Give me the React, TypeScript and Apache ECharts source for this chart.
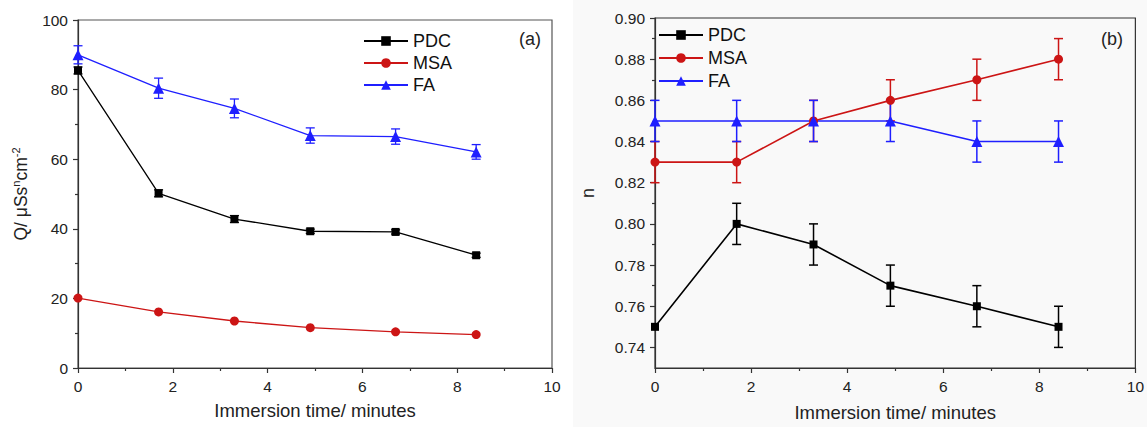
import React, { useEffect, useRef } from "react";
import * as echarts from "echarts";

const times = [0, 1.7, 3.3, 4.9, 6.7, 8.4];

// Panel (a): Q values
const qPDC = [85.5, 50.2, 42.8, 39.3, 39.1, 32.4];
const qPDCErr = [1.0, 1.0, 1.0, 0.6, 0.6, 0.6];
const qMSA = [20.1, 16.1, 13.5, 11.6, 10.4, 9.6];
const qMSAErr = [0, 0, 0, 0, 0, 0];
const qFA = [90.0, 80.4, 74.6, 66.8, 66.5, 62.1];
const qFAErr = [2.6, 2.9, 2.7, 2.2, 2.2, 2.1];

// Panel (b): n values
const nPDC = [0.75, 0.8, 0.79, 0.77, 0.76, 0.75];
const nPDCErr = [0, 0.01, 0.01, 0.01, 0.01, 0.01];
const nMSA = [0.83, 0.83, 0.85, 0.86, 0.87, 0.88];
const nMSAErr = [0.01, 0.01, 0.01, 0.01, 0.01, 0.01];
const nFA = [0.85, 0.85, 0.85, 0.85, 0.84, 0.84];
const nFAErr = [0.01, 0.01, 0.01, 0.01, 0.01, 0.01];

const nMajorTicks = [0.74, 0.76, 0.78, 0.8, 0.82, 0.84, 0.86, 0.88, 0.9];
const nMinorTicks = [0.75, 0.77, 0.79, 0.81, 0.83, 0.85, 0.87, 0.89];

const seriesNames = ["PDC", "MSA", "FA"];
const colors = ["#000000", "#cc1515", "#1f1fff"];
const symbols = ["rect", "circle", "triangle"];
const symbolSizes = [8, 9, 11];

const FONT = "Liberation Sans, Arial, sans-serif";

function lineSeries(name: string, idx: number, values: number[], axisIndex: number) {
  return {
    type: "line",
    name,
    xAxisIndex: axisIndex,
    yAxisIndex: axisIndex === 0 ? 0 : 1,
    data: times.map((t, i) => [t, values[i]]),
    symbol: symbols[idx],
    symbolSize: symbolSizes[idx],
    showSymbol: true,
    itemStyle: { color: colors[idx] },
    lineStyle: { color: colors[idx], width: axisIndex === 0 ? 1.3 : 1.6 },
    z: 3,
  };
}

function errSeries(name: string, idx: number, values: number[], errs: number[], axisIndex: number) {
  const lw = axisIndex === 0 ? 1.3 : 1.5;
  return {
    type: "custom",
    name: name + "-err",
    xAxisIndex: axisIndex,
    yAxisIndex: axisIndex === 0 ? 0 : 1,
    data: times.map((t, i) => [t, values[i] - errs[i], values[i] + errs[i], errs[i]]),
    renderItem: (params: any, api: any) => {
      if (api.value(3) === 0) return { type: "group", children: [] };
      const lo = api.coord([api.value(0), api.value(1)]);
      const hi = api.coord([api.value(0), api.value(2)]);
      const hw = 4.5;
      const st = { stroke: colors[idx], lineWidth: lw };
      return {
        type: "group",
        children: [
          { type: "line", shape: { x1: lo[0], y1: lo[1], x2: hi[0], y2: hi[1] }, style: st },
          { type: "line", shape: { x1: lo[0] - hw, y1: lo[1], x2: lo[0] + hw, y2: lo[1] }, style: st },
          { type: "line", shape: { x1: hi[0] - hw, y1: hi[1], x2: hi[0] + hw, y2: hi[1] }, style: st },
        ],
      };
    },
    z: 2,
  };
}

const axisCommon = {
  axisLine: { show: true, onZero: false, lineStyle: { color: "#333", width: 1.2 } },
  axisTick: { show: true, inside: false, length: 5, lineStyle: { color: "#333", width: 1.2 } },
  minorTick: { show: true, splitNumber: 2, length: 3, lineStyle: { color: "#333", width: 1.2 } },
  splitLine: { show: false },
  axisLabel: { fontSize: 15.5, color: "#222", fontFamily: FONT, margin: 10 },
};

export default function App() {
  const ref = useRef<HTMLDivElement>(null);
  useEffect(() => {
    if (!ref.current) return;
    const chart = echarts.init(ref.current, undefined, { renderer: "svg" });
    const option: any = {
      animation: false,
      backgroundColor: "#ffffff",
      textStyle: { fontFamily: FONT },
      graphic: [
        {
          type: "rect",
          shape: { x: 573, y: 0, width: 574, height: 427 },
          style: { fill: "#f9f9f9" },
          z: -10,
          silent: true,
        },
        {
          type: "text",
          x: 519,
          y: 30,
          style: { text: "(a)", fontSize: 18, fill: "#222", fontFamily: FONT },
        },
        {
          type: "text",
          x: 1101,
          y: 30,
          style: { text: "(b)", fontSize: 18, fill: "#222", fontFamily: FONT },
        },
      ],
      grid: [
        { left: 78, top: 20, width: 474, height: 348, show: true, borderColor: "#555", borderWidth: 1.2, backgroundColor: "transparent" },
        { left: 655, top: 18, width: 481, height: 355, show: true, borderColor: "#333", borderWidth: 1.2, backgroundColor: "transparent" },
      ],
      legend: [
        {
          data: seriesNames,
          orient: "vertical",
          left: 358,
          top: 27,
          itemWidth: 44,
          itemHeight: 12,
          itemGap: 4,
          textStyle: { fontSize: 18, color: "#111", fontFamily: FONT },
          selectedMode: false,
        },
        {
          data: seriesNames,
          orient: "vertical",
          left: 653,
          top: 21,
          itemWidth: 44,
          itemHeight: 12,
          itemGap: 5,
          textStyle: { fontSize: 18, color: "#111", fontFamily: FONT },
          selectedMode: false,
        },
      ],
      xAxis: [
        {
          ...axisCommon,
          type: "value",
          gridIndex: 0,
          min: 0,
          max: 10,
          interval: 2,
          name: "Immersion time/ minutes",
          nameLocation: "middle",
          nameGap: 33,
          nameTextStyle: { fontSize: 18.5, color: "#222", fontFamily: FONT },
        },
        {
          ...axisCommon,
          type: "value",
          gridIndex: 1,
          min: 0,
          max: 10,
          interval: 2,
          name: "Immersion time/ minutes",
          nameLocation: "middle",
          nameGap: 35,
          nameTextStyle: { fontSize: 18.5, color: "#222", fontFamily: FONT },
        },
      ],
      yAxis: [
        {
          ...axisCommon,
          type: "value",
          gridIndex: 0,
          min: 0,
          max: 100,
          interval: 20,
          name: "{a|Q/ μSs}{s|n}{a|cm}{s|-2}",
          nameLocation: "middle",
          nameRotate: 90,
          nameGap: 46,
          nameTextStyle: {
            color: "#222",
            rich: {
              a: { fontSize: 17.5, fontFamily: FONT, color: "#222", lineHeight: 22 },
              s: { fontSize: 11, fontFamily: FONT, color: "#222", lineHeight: 22, padding: [0, 0, 10, 0] },
            },
          },
        },
        {
          ...axisCommon,
          type: "value",
          gridIndex: 1,
          min: 0.73,
          max: 0.9,
          minorTick: { show: false },
          axisTick: { ...axisCommon.axisTick, customValues: nMajorTicks },
          axisLabel: {
            ...axisCommon.axisLabel,
            customValues: nMajorTicks,
            formatter: (v: number) => v.toFixed(2),
          },
          name: "n",
          nameLocation: "middle",
          nameRotate: 90,
          nameGap: 58,
          nameTextStyle: { fontSize: 18, color: "#222", fontFamily: FONT },
        },
        {
          type: "value",
          gridIndex: 1,
          min: 0.73,
          max: 0.9,
          position: "left",
          axisLine: { show: false },
          axisLabel: { show: false },
          splitLine: { show: false },
          axisTick: { show: true, length: 3, customValues: nMinorTicks, lineStyle: { color: "#333", width: 1.2 } },
        },
      ],
      series: [
        errSeries("PDC", 0, qPDC, qPDCErr, 0),
        errSeries("MSA", 1, qMSA, qMSAErr, 0),
        errSeries("FA", 2, qFA, qFAErr, 0),
        lineSeries("PDC", 0, qPDC, 0),
        lineSeries("MSA", 1, qMSA, 0),
        lineSeries("FA", 2, qFA, 0),
        errSeries("PDC", 0, nPDC, nPDCErr, 1),
        errSeries("MSA", 1, nMSA, nMSAErr, 1),
        errSeries("FA", 2, nFA, nFAErr, 1),
        lineSeries("PDC", 0, nPDC, 1),
        lineSeries("MSA", 1, nMSA, 1),
        lineSeries("FA", 2, nFA, 1),
      ],
    };
    chart.setOption(option);
    return () => chart.dispose();
  }, []);
  return (
    <div
      ref={ref}
      style={{ position: "fixed", left: 0, top: 0, width: 1147, height: 427 }}
    />
  );
}
